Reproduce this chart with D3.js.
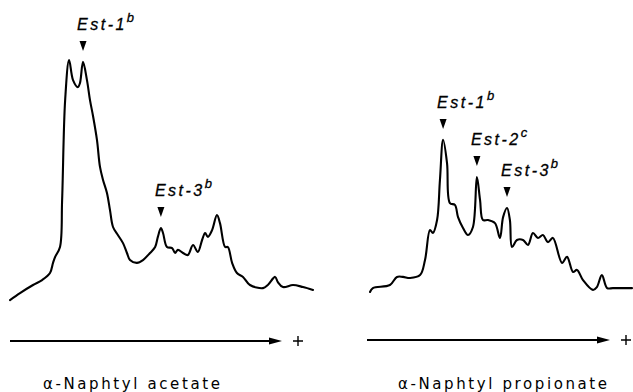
<!DOCTYPE html>
<html>
<head>
<meta charset="utf-8">
<script src="https://cdn.jsdelivr.net/npm/d3@7"></script>
<style>
  body { margin: 0; background: #fff; }
  svg { display: block; }
  .trace { fill: none; stroke: #000; stroke-width: 2.1; stroke-linejoin: round; stroke-linecap: round; }
  .band { font-family: "Liberation Sans", Arial, sans-serif; font-style: italic; font-size: 16px; letter-spacing: 2.5px; fill: #000; stroke: #000; stroke-width: 0.3px; }
  .substrate { font-family: "DejaVu Sans", sans-serif; font-size: 15px; letter-spacing: 2.6px; fill: #000; }
</style>
</head>
<body>
<svg width="633" height="392"></svg>
<script>
// relative migration distance (0-100) and staining density (0-100)
var acetatePos = [0, 3.3, 7.6, 10.6, 13.2, 14.2, 14.9, 16.5, 17.2, 18.2, 19.5, 20.8, 22.4, 23.1, 24.1, 25.4, 26.4,
  27.4, 28.7, 29.7, 30.7, 32.0, 33.0, 34.0, 35.6, 37.3, 38.6, 39.6, 41.9, 43.9, 46.2, 47.9, 48.8, 49.8, 50.5,
  51.8, 53.5, 54.5, 55.4, 57.1, 58.7, 60.4, 62.0, 63.4, 64.4, 65.3, 66.7, 68.3, 69.3, 71.0, 71.9, 73.3, 74.9,
  76.9, 79.2, 83.5, 85.1, 87.5, 88.4, 90.1, 93.4, 96.7, 100];
var acetateDensity = [1.9, 4.6, 7.7, 9.6, 12.3, 16.2, 18.5, 22.3, 40.4, 78.8, 94.2, 86.5, 83.8, 85.4, 93.5, 86.5, 78.8,
  72.7, 63.5, 53.1, 48.1, 43.1, 36.5, 30.0, 26.9, 23.8, 20.0, 17.3, 16.2, 17.3, 20.0, 22.3, 26.2, 29.6, 27.7,
  22.3, 21.9, 20.0, 21.2, 20.0, 19.2, 23.1, 20.4, 25.0, 27.7, 26.2, 28.8, 34.6, 31.5, 22.3, 22.3, 16.2, 12.3,
  10.8, 7.7, 6.5, 7.7, 10.8, 8.8, 6.9, 7.7, 6.9, 5.8];

var propionatePos = [0, 1.1, 7.6, 10.3, 12.6, 15.3, 19.1, 21.0, 22.9, 24.0, 25.6, 26.7, 27.9, 29.4, 30.5, 32.4, 33.6,
  35.5, 37.4, 39.3, 40.8, 42.0, 43.1, 45.0, 47.7, 49.6, 50.8, 52.3, 53.4, 54.2, 56.1, 58.4, 60.3, 62.2, 64.1,
  66.0, 67.9, 69.8, 73.3, 75.2, 77.5, 79.0, 81.3, 85.1, 86.6, 88.5, 90.5, 92.7, 96.6, 100];
var propionateDensity = [5.0, 6.5, 7.7, 10.8, 10.8, 10.4, 11.5, 17.3, 28.8, 27.7, 32.7, 48.1, 63.5, 54.6, 39.2, 38.5, 33.8,
  29.6, 26.9, 30.0, 49.2, 40.4, 32.7, 32.7, 31.5, 25.8, 33.8, 37.3, 32.7, 22.3, 25.0, 25.0, 23.1, 27.7, 25.8,
  26.9, 24.2, 25.8, 16.2, 18.5, 12.7, 13.5, 9.6, 5.8, 6.9, 11.5, 6.5, 6.5, 6.5, 6.5];

var acetateBands = ["Est-1", "Est-3"];
var acetateBandSup = ["b", "b"];
var acetateBandPos = [24.1, 49.8];
var acetateBandDensity = [93.5, 29.6];

var propionateBands = ["Est-1", "Est-2", "Est-3"];
var propionateBandSup = ["b", "c", "b"];
var propionateBandPos = [27.9, 40.8, 52.3];
var propionateBandDensity = [63.5, 49.2, 37.3];

var substrates = ["\u03b1-Naphtyl acetate", "\u03b1-Naphtyl propionate"];

var svg = d3.select("svg");

var y = d3.scaleLinear().domain([0, 100]).range([305, 45]);

var panels = [
  { pos: acetatePos, dens: acetateDensity, bands: acetateBands, sup: acetateBandSup,
    bpos: acetateBandPos, bdens: acetateBandDensity, range: [10, 313], arrow: [10, 282], arrowY: 341, labelX: 43 },
  { pos: propionatePos, dens: propionateDensity, bands: propionateBands, sup: propionateBandSup,
    bpos: propionateBandPos, bdens: propionateBandDensity, range: [370, 632], arrow: [367, 610], arrowY: 340, labelX: 398 }
];

panels.forEach(function(p, i) {
  var x = d3.scaleLinear().domain([0, 100]).range(p.range);
  var g = svg.append("g");

  var line = d3.line()
    .curve(d3.curveCatmullRom.alpha(0.5))
    .x(function(d) { return x(d[0]); })
    .y(function(d) { return y(d[1]); });

  g.append("path")
    .datum(d3.zip(p.pos, p.dens))
    .attr("class", "trace")
    .attr("d", line);

  // band markers
  p.bands.forEach(function(name, j) {
    var bx = x(p.bpos[j]), by = y(p.bdens[j]) - 11;
    g.append("path")
      .attr("d", "M" + (bx - 3.5) + "," + (by - 10) + "L" + (bx + 3.5) + "," + (by - 10) + "L" + bx + "," + by + "Z")
      .attr("fill", "#000");
    var t = g.append("text")
      .attr("class", "band")
      .attr("x", bx - 6)
      .attr("y", by - 21);
    t.append("tspan").text(name);
    t.append("tspan")
      .attr("dy", -8)
      .attr("font-size", 13)
      .text(p.sup[j]);
  });

  // migration direction arrow
  g.append("line")
    .attr("x1", p.arrow[0]).attr("x2", p.arrow[1] - 10)
    .attr("y1", p.arrowY).attr("y2", p.arrowY)
    .attr("stroke", "#000").attr("stroke-width", 1.8);
  g.append("path")
    .attr("d", "M" + (p.arrow[1] - 13) + "," + (p.arrowY - 3.5) + "L" + p.arrow[1] + "," + p.arrowY +
      "L" + (p.arrow[1] - 13) + "," + (p.arrowY + 3.5) + "Z")
    .attr("fill", "#000");
  var px = p.arrow[1] + 16;
  g.append("path")
    .attr("d", "M" + (px - 5) + "," + p.arrowY + "H" + (px + 5) + "M" + px + "," + (p.arrowY - 5) + "V" + (p.arrowY + 5))
    .attr("stroke", "#000").attr("stroke-width", 1.4);

  g.append("text")
    .attr("class", "substrate")
    .attr("x", p.labelX)
    .attr("y", 389)
    .text(substrates[i]);
});
</script>
</body>
</html>
